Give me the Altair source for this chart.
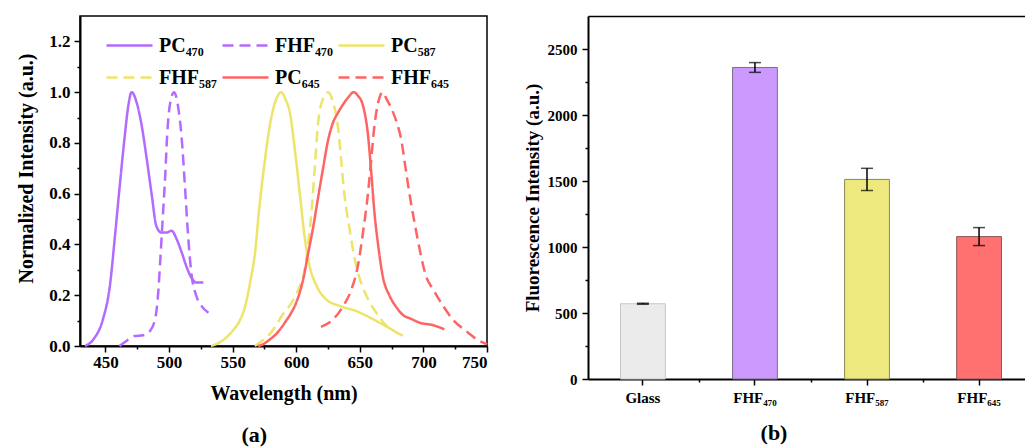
import altair as alt
import pandas as pd

FONT = "Liberation Serif"

# ---------------- panel (a): emission spectra ----------------
SERIES = ["PC₄₇₀", "FHF₄₇₀", "PC₅₈₇", "FHF₅₈₇", "PC₆₄₅", "FHF₆₄₅"]
LINE_COLORS = ["#B36BFF", "#B36BFF", "#EDE46A", "#EDE46A", "#FF6464", "#FF6464"]
DASHES = [[1, 0], [11, 6], [1, 0], [11, 6], [1, 0], [11, 6]]

pc470_wl = [434, 440.5, 448, 453.5, 457.5, 461.5, 465.5, 468, 470.6, 474.5, 478.5, 482.5,
            486.5, 490, 494, 498, 502, 506, 510, 514, 517.5, 521.5, 527]
pc470_i = [0, 0.026, 0.105, 0.237, 0.434, 0.644, 0.842, 0.947, 1.0, 0.96, 0.868, 0.736,
           0.592, 0.473, 0.447, 0.447, 0.454, 0.421, 0.368, 0.309, 0.27, 0.25, 0.25]

fhf470_wl = [461, 466.5, 473, 479.5, 485, 489, 491.5, 493, 495, 497, 498.5, 501, 504, 507,
             510, 512.5, 515, 517.5, 521.5, 525.5, 531]
fhf470_i = [0, 0.02, 0.039, 0.042, 0.059, 0.105, 0.21, 0.329, 0.5, 0.671, 0.828, 0.96, 1.0,
            0.947, 0.815, 0.631, 0.434, 0.289, 0.197, 0.158, 0.131]

pc587_wl = [533, 540, 545, 550, 555.5, 560, 562, 564.5, 567.5, 571, 575, 579, 583, 586, 588,
            592, 595, 599, 603, 606.5, 610.5, 616, 623.5, 634, 647, 658, 668, 677]
pc587_i = [0, 0.015, 0.033, 0.06, 0.099, 0.16, 0.204, 0.27, 0.362, 0.546, 0.717, 0.862, 0.954,
           0.99, 1.0, 0.967, 0.92, 0.77, 0.592, 0.434, 0.316, 0.237, 0.184, 0.158, 0.138,
           0.112, 0.085, 0.06]

fhf587_wl = [567.5, 573, 579, 584, 589.5, 595, 600, 603.5, 606.5, 608.5, 612, 614.5, 617, 621,
             625, 629, 633, 635.5, 638, 642, 646, 651, 656.5, 663, 671, 679, 686.5]
fhf587_i = [0, 0.02, 0.046, 0.08, 0.125, 0.16, 0.204, 0.245, 0.296, 0.368, 0.526, 0.697, 0.868,
            0.973, 1.0, 0.96, 0.855, 0.723, 0.592, 0.46, 0.342, 0.25, 0.184, 0.131, 0.079,
            0.053, 0.035]

pc645_wl = [570, 574, 579, 584, 588, 592, 596, 600, 605.5, 609.5, 613.5, 617, 621, 625, 629,
            633, 637, 641, 645, 648.5, 652.5, 656.5, 659, 661.5, 664.5, 668, 673.5, 679, 685,
            689, 697, 707.5, 716.5]
pc645_i = [0, 0.007, 0.025, 0.046, 0.07, 0.099, 0.13, 0.171, 0.263, 0.368, 0.473, 0.579, 0.697,
           0.809, 0.881, 0.92, 0.953, 0.98, 1.0, 0.986, 0.947, 0.828, 0.684, 0.526, 0.394,
           0.276, 0.197, 0.151, 0.118, 0.11, 0.092, 0.082, 0.066]

fhf645_wl = [619.5, 629, 637, 643.5, 648.5, 652.5, 656.5, 659, 661.5, 664.5, 668, 671, 675, 679,
             682.5, 686, 690, 694, 697.5, 702, 707.5, 715.5, 723, 733.5, 744, 750]
fhf645_i = [0.075, 0.105, 0.158, 0.224, 0.316, 0.447, 0.605, 0.736, 0.868, 0.96, 1.0, 0.973,
            0.934, 0.881, 0.815, 0.7, 0.57, 0.46, 0.37, 0.276, 0.224, 0.158, 0.105, 0.059,
            0.02, 0.007]

WLS = [pc470_wl, fhf470_wl, pc587_wl, fhf587_wl, pc645_wl, fhf645_wl]
INTS = [pc470_i, fhf470_i, pc587_i, fhf587_i, pc645_i, fhf645_i]

X_TICKS_A = [450, 500, 550, 600, 650, 700, 750]
X_MINOR_A = [475, 525, 575, 625, 675, 725]
Y_TICKS_A = [0, 0.2, 0.4, 0.6, 0.8, 1.0, 1.2]
Y_MINOR_A = [0.1, 0.3, 0.5, 0.7, 0.9, 1.1]

rows = []
for name, wl, inten in zip(SERIES, WLS, INTS):
    for w, v in zip(wl, inten):
        rows.append({"series": name, "wl": w, "intensity": v})
spec_df = pd.DataFrame(rows)

# ---------------- panel (b): bar chart ----------------
CATS = ["Glass", "FHF₄₇₀", "FHF₅₈₇", "FHF₆₄₅"]
VALUES = [570, 2360, 1512, 1079]
ERRS = [4, 37, 84, 68]
BAR_FILLS = ["#EBEBEB", "#CC99FF", "#EEE97E", "#FF7070"]
BAR_EDGES = ["#C6C6C6", "#7A6C88", "#8A8858", "#8A5858"]
Y_TICKS_B = [0, 500, 1000, 1500, 2000, 2500]
Y_MINOR_B = [250, 750, 1250, 1750, 2250]

bar_df = pd.DataFrame({"cat": CATS, "value": VALUES, "err": ERRS})
bar_df["lo"] = bar_df["value"] - bar_df["err"]
bar_df["hi"] = bar_df["value"] + bar_df["err"]

common_axis = dict(domainColor="black", domainWidth=2, tickColor="black", tickWidth=1.5,
                   labelColor="black", labelFont=FONT, labelFontWeight="bold",
                   titleFont=FONT, titleFontWeight="bold", titleColor="black", grid=False)

# ----- panel (a) -----
legend_kw = dict(title=None, orient="none", legendX=25, legendY=14, columns=3,
                 direction="horizontal",
                 symbolType="stroke", symbolSize=2116, symbolStrokeWidth=2.5, clipHeight=31,
                 labelFont=FONT, labelFontSize=20, labelFontWeight="bold", labelColor="black",
                 labelOffset=5, columnPadding=4, rowPadding=1, padding=0)

xa_scale = alt.Scale(domain=[430, 750], nice=False, zero=False)
ya_scale = alt.Scale(domain=[0, 1.3], nice=False)

lines = alt.Chart(spec_df).mark_line(strokeWidth=2.5, interpolate="monotone").encode(
    x=alt.X("wl:Q", scale=xa_scale,
            axis=alt.Axis(values=X_TICKS_A, title="Wavelength (nm)", orient="bottom",
                          labelFontSize=17, titleFontSize=20, tickSize=6, labelPadding=2,
                          titlePadding=13, **common_axis)),
    y=alt.Y("intensity:Q", scale=ya_scale,
            axis=alt.Axis(values=Y_TICKS_A, format=".1f", title="Normalized Intensity (a.u.)",
                          orient="left", labelFontSize=17, titleFontSize=20, tickSize=6,
                          labelPadding=4, titlePadding=12, titleY=152, **common_axis)),
    color=alt.Color("series:N", scale=alt.Scale(domain=SERIES, range=LINE_COLORS),
                    legend=alt.Legend(**legend_kw)),
    strokeDash=alt.StrokeDash("series:N", scale=alt.Scale(domain=SERIES, range=DASHES),
                              legend=alt.Legend(**legend_kw)),
)

minor_a = alt.Chart(spec_df).mark_point(opacity=0).encode(
    x=alt.X("wl:Q", scale=xa_scale,
            axis=alt.Axis(values=X_MINOR_A, labels=False, title=None, domain=False,
                          tickSize=3, orient="bottom", tickColor="black", tickWidth=1.5,
                          grid=False)),
    y=alt.Y("intensity:Q", scale=ya_scale,
            axis=alt.Axis(values=Y_MINOR_A, labels=False, title=None, domain=False,
                          tickSize=3, orient="left", tickColor="black", tickWidth=1.5,
                          grid=False)),
)

panel_a = alt.layer(lines, minor_a).resolve_axis(x="independent", y="independent").properties(
    width=407, height=330,
    view=alt.ViewBackground(stroke="black", strokeWidth=1.5),
    title=alt.Title("(a)", orient="bottom", anchor="middle", frame="bounds", offset=22,
                    font=FONT, fontSize=22, fontWeight="bold", color="black"),
)

# ----- panel (b) -----
xb_scale = alt.Scale(domain=CATS, paddingInner=0.6, paddingOuter=0.25, align=0.58)
yb_scale = alt.Scale(domain=[0, 2750], nice=False)

bars = alt.Chart(bar_df).mark_bar(strokeWidth=1).encode(
    x=alt.X("cat:N", scale=xb_scale, sort=CATS,
            axis=alt.Axis(title=None, labelAngle=0, orient="bottom", labelFontSize=15,
                          tickSize=6, labelPadding=5, **common_axis)),
    y=alt.Y("value:Q", scale=yb_scale,
            axis=alt.Axis(values=Y_TICKS_B, format="d", title="Fluorescence Intensity (a.u.)",
                          orient="left", labelFontSize=15, titleFontSize=19, tickSize=6,
                          labelPadding=5, titlePadding=5, **common_axis)),
    fill=alt.Fill("cat:N", scale=alt.Scale(domain=CATS, range=BAR_FILLS), legend=None),
    stroke=alt.Stroke("cat:N", scale=alt.Scale(domain=CATS, range=BAR_EDGES), legend=None),
)

err_rule = alt.Chart(bar_df).mark_rule(color="black", strokeWidth=1.5).encode(
    x=alt.X("cat:N", scale=xb_scale, sort=CATS, axis=None),
    y=alt.Y("lo:Q", scale=yb_scale, axis=None),
    y2="hi:Q",
)

caps = alt.Chart(bar_df).transform_fold(["lo", "hi"], as_=["end", "ev"]).mark_tick(
    color="black", thickness=1.5, size=12
).encode(
    x=alt.X("cat:N", scale=xb_scale, sort=CATS, axis=None),
    y=alt.Y("ev:Q", scale=yb_scale, axis=None),
)

minor_b = alt.Chart(bar_df).mark_point(opacity=0).encode(
    x=alt.X("cat:N", scale=xb_scale, sort=CATS,
            axis=alt.Axis(values=CATS[:3], labels=False, title=None, domain=False,
                          tickSize=3, tickOffset=56, orient="bottom", tickColor="black",
                          tickWidth=1.5, grid=False)),
    y=alt.Y("value:Q", scale=yb_scale,
            axis=alt.Axis(values=Y_MINOR_B, labels=False, title=None, domain=False,
                          tickSize=3, orient="left", tickColor="black", tickWidth=1.5,
                          grid=False)),
)

top_b = alt.Chart(bar_df).mark_point(opacity=0).encode(
    x=alt.X("cat:N", scale=xb_scale, sort=CATS,
            axis=alt.Axis(labels=False, ticks=False, title=None, domain=True,
                          domainColor="black", domainWidth=1.5, orient="top", grid=False)),
    y=alt.Y("value:Q", scale=yb_scale, axis=None),
)

panel_b = alt.layer(bars, err_rule, caps, minor_b, top_b).resolve_axis(
    x="independent", y="independent"
).properties(
    width=437, height=363,
    view=alt.ViewBackground(stroke=None),
    title=alt.Title("(b)", orient="bottom", anchor="middle", frame="bounds", offset=18,
                    font=FONT, fontSize=22, fontWeight="bold", color="black"),
)

chart = alt.hconcat(panel_a, panel_b, spacing=30).properties(
    padding={"left": 16, "top": 15, "right": 0, "bottom": 0},
    background="white",
)

chart.save("out.html", embed_options={"renderer": "svg", "actions": False})
